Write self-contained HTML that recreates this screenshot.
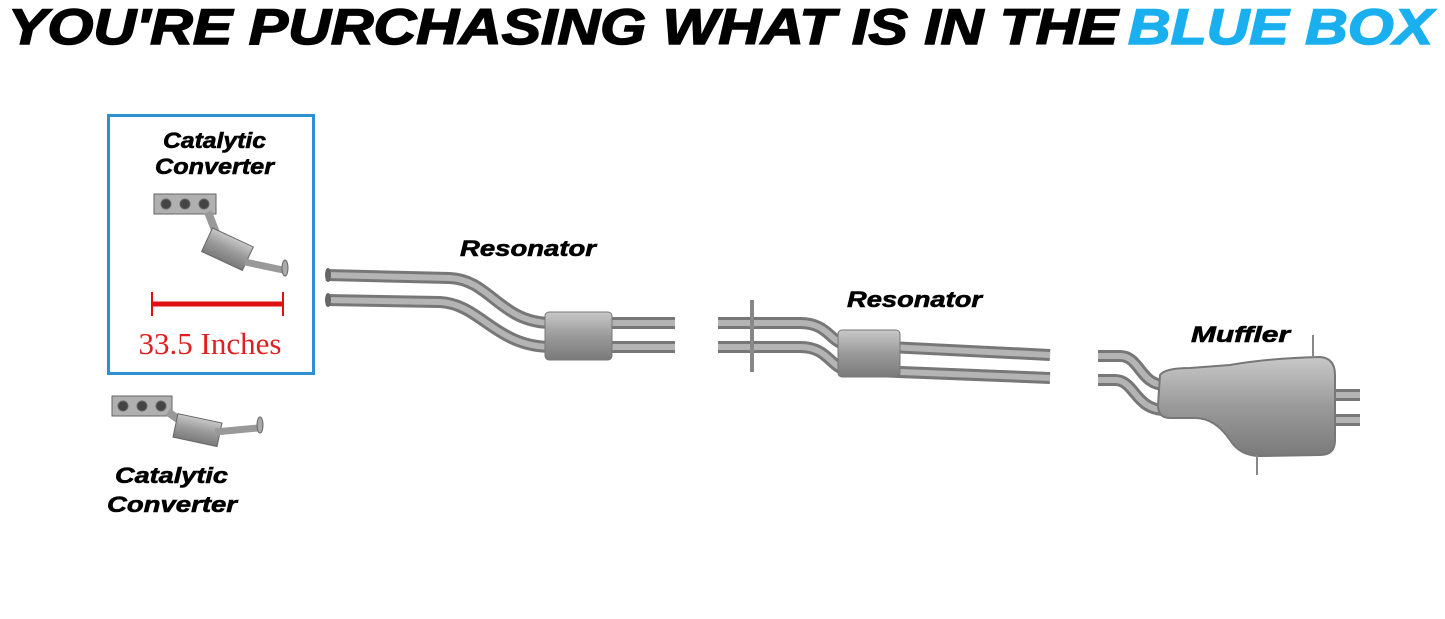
<!DOCTYPE html>
<html><head><meta charset="utf-8"><style>
body{margin:0;background:#fff;width:1445px;height:619px;overflow:hidden}
svg{display:block}
</style></head><body>
<svg width="1445" height="619" viewBox="0 0 1445 619" xmlns="http://www.w3.org/2000/svg">
<defs>
<linearGradient id="g" x1="0" y1="0" x2="0" y2="1"><stop offset="0" stop-color="#c8c8c8"/><stop offset="0.5" stop-color="#9a9a9a"/><stop offset="1" stop-color="#7a7a7a"/></linearGradient>
</defs>
<text x="8" y="44" font-family="Liberation Sans, sans-serif" font-weight="bold" font-style="italic" font-size="50" textLength="1110" lengthAdjust="spacingAndGlyphs" fill="#000" stroke="#000" stroke-width="1.5">YOU'RE PURCHASING WHAT IS IN THE</text>
<text x="1128" y="44" font-family="Liberation Sans, sans-serif" font-weight="bold" font-style="italic" font-size="50" textLength="305" lengthAdjust="spacingAndGlyphs" fill="#1ab0ef" stroke="#1ab0ef" stroke-width="1.5">BLUE BOX</text>

<rect x="108.5" y="115.5" width="205" height="258" fill="none" stroke="#2f8fd0" stroke-width="3"/>
<g font-family="Liberation Sans, sans-serif" font-weight="bold" font-style="italic" font-size="22" fill="#000" stroke="#000" stroke-width="0.6" lengthAdjust="spacingAndGlyphs">
<text x="163" y="148" textLength="103" lengthAdjust="spacingAndGlyphs">Catalytic</text>
<text x="155" y="174" textLength="119" lengthAdjust="spacingAndGlyphs">Converter</text>
<text x="115" y="483" textLength="113" lengthAdjust="spacingAndGlyphs">Catalytic</text>
<text x="107" y="512" textLength="130" lengthAdjust="spacingAndGlyphs">Converter</text>
<text x="460" y="256" textLength="136" lengthAdjust="spacingAndGlyphs">Resonator</text>
<text x="847" y="307" textLength="135" lengthAdjust="spacingAndGlyphs">Resonator</text>
<text x="1191" y="342" textLength="99" lengthAdjust="spacingAndGlyphs">Muffler</text>
</g>
<line x1="152" y1="304" x2="283" y2="304" stroke="#e01010" stroke-width="5"/>
<line x1="152" y1="292" x2="152" y2="316" stroke="#e01010" stroke-width="2"/>
<line x1="283" y1="292" x2="283" y2="316" stroke="#e01010" stroke-width="2"/>
<text x="210" y="354" font-family="Liberation Serif, serif" font-size="31" fill="#e02020" text-anchor="middle">33.5 Inches</text>

<g stroke="#666" stroke-width="1">
<rect x="154" y="194" width="62" height="20" fill="#b0b0b0"/>
<circle cx="166" cy="204" r="5" fill="#444"/><circle cx="185" cy="204" r="5" fill="#444"/><circle cx="204" cy="204" r="5" fill="#444"/>
<path d="M208 212 L218 238" stroke="#999" stroke-width="8"/>
<rect x="205" y="236" width="45" height="26" fill="url(#g)" transform="rotate(25 227 249)"/>
<path d="M245 262 L283 270" stroke="#999" stroke-width="7"/>
<ellipse cx="285" cy="268" rx="3" ry="8" fill="#aaa"/>
</g>
<g stroke="#666" stroke-width="1">
<rect x="112" y="396" width="60" height="20" fill="#b0b0b0"/>
<circle cx="123" cy="406" r="5" fill="#444"/><circle cx="142" cy="406" r="5" fill="#444"/><circle cx="161" cy="406" r="5" fill="#444"/>
<path d="M168 412 L182 422" stroke="#999" stroke-width="8"/>
<rect x="175" y="418" width="45" height="24" fill="url(#g)" transform="rotate(12 197 430)"/>
<path d="M215 432 L258 428" stroke="#999" stroke-width="7"/>
<ellipse cx="260" cy="425" rx="3" ry="8" fill="#aaa"/>
</g>

<g fill="none" stroke-linecap="butt">
<g stroke="#777" stroke-width="12">
<path d="M326 275 L450 278 C490 280 500 322 550 323 L675 323"/>
<path d="M326 300 L440 302 C480 304 495 346 550 347 L675 347"/>
<path d="M718 323 L800 323 C830 323 830 345 850 345 L1050 355"/>
<path d="M718 347 L800 347 C830 347 830 370 850 370 L1050 378"/>
<path d="M1098 356 L1120 356 C1140 356 1140 385 1165 385"/>
<path d="M1098 380 L1115 380 C1135 380 1135 410 1165 410"/>
<path d="M1320 395 L1360 395"/><path d="M1320 420 L1360 420"/>
</g>
<g stroke="#b4b4b4" stroke-width="6">
<path d="M326 275 L450 278 C490 280 500 322 550 323 L675 323"/>
<path d="M326 300 L440 302 C480 304 495 346 550 347 L675 347"/>
<path d="M718 323 L800 323 C830 323 830 345 850 345 L1050 355"/>
<path d="M718 347 L800 347 C830 347 830 370 850 370 L1050 378"/>
<path d="M1098 356 L1120 356 C1140 356 1140 385 1165 385"/>
<path d="M1098 380 L1115 380 C1135 380 1135 410 1165 410"/>
<path d="M1320 395 L1360 395"/><path d="M1320 420 L1360 420"/>
</g>
</g>
<ellipse cx="328" cy="275" rx="3" ry="7" fill="#666"/><ellipse cx="328" cy="300" rx="3" ry="7" fill="#666"/>
<rect x="545" y="312" width="67" height="48" rx="4" fill="url(#g)" stroke="#777"/>
<line x1="752" y1="300" x2="752" y2="372" stroke="#888" stroke-width="4"/>
<rect x="838" y="330" width="62" height="47" rx="4" fill="url(#g)" stroke="#777"/>
<path d="M1160 375 Q1165 368 1190 368 L1230 365 Q1270 358 1320 357 Q1335 358 1335 375 L1335 440 Q1335 455 1320 455 L1260 456 Q1240 456 1230 440 Q1215 418 1195 418 L1170 418 Q1158 418 1158 405 Z" fill="url(#g)" stroke="#777" stroke-width="2"/>
<line x1="1313" y1="335" x2="1313" y2="358" stroke="#888" stroke-width="2"/>
<line x1="1257" y1="455" x2="1257" y2="475" stroke="#888" stroke-width="2"/>
</svg>
</body></html>
